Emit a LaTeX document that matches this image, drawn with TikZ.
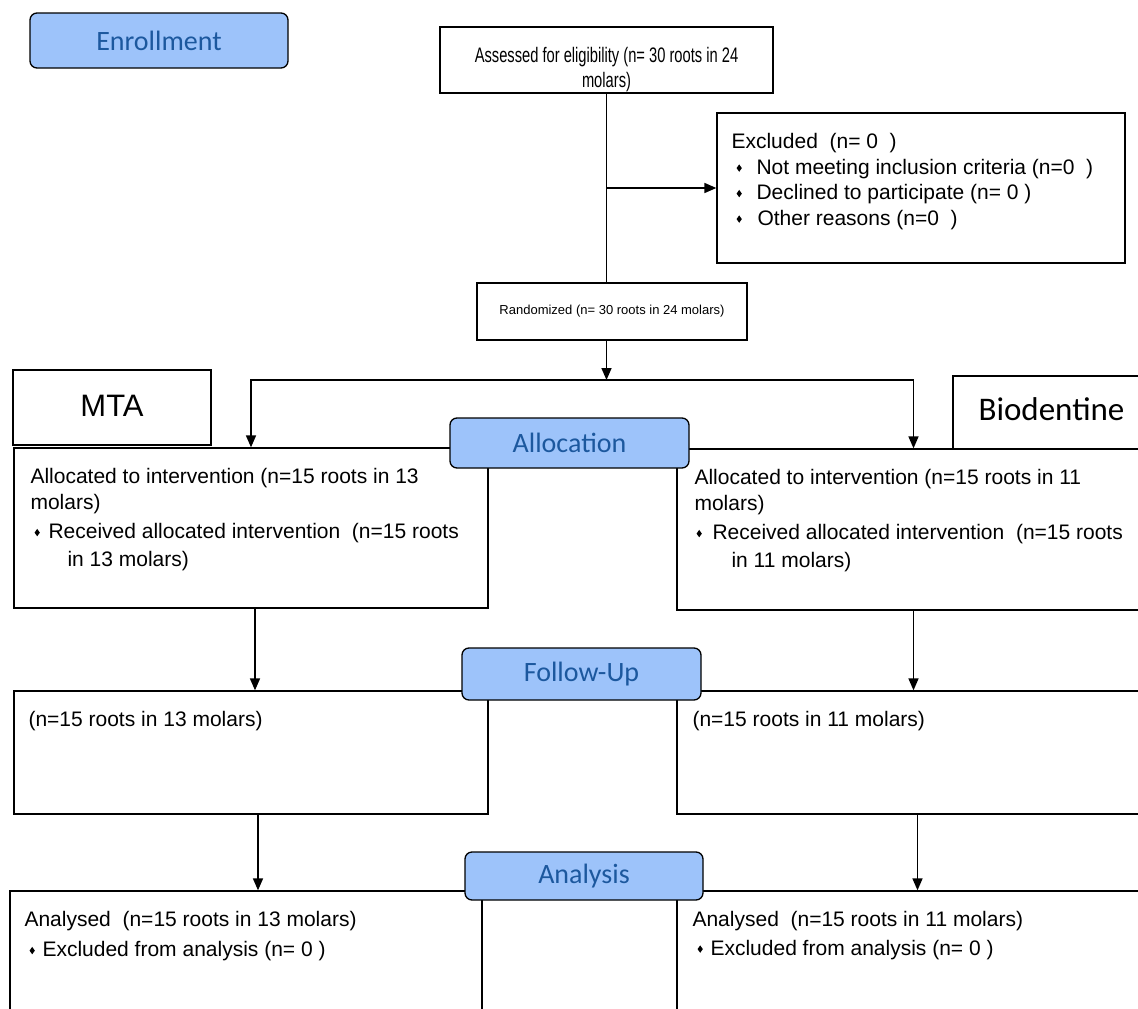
\documentclass[tikz,border=0pt]{standalone}
\usepackage{fontspec}
\setmainfont{Liberation Sans}
\newfontfamily\stagefont{Carlito}
\newfontfamily\narrowfont[FakeStretch=0.7]{Liberation Sans}
\usetikzlibrary{arrows.meta}
\definecolor{stagefill}{RGB}{157,195,250}
\definecolor{stagetext}{RGB}{28,88,158}
\newcommand\dmd{\raisebox{2.5pt}{\scalebox{0.72}[1]{\rotatebox{45}{\rule{5.2pt}{5.2pt}}}}}

\begin{document}
\begin{tikzpicture}[x=1pt,y=-1pt,
  box/.style={draw,line width=1.3pt,inner sep=0pt},
  stage/.style={draw,line width=1.3pt,rounded corners=7pt,fill=stagefill,text=stagetext,
    font=\stagefont\fontsize{28}{30}\selectfont,inner sep=0pt},
  txt/.style={anchor=north west,align=left,inner sep=0pt,font=\fontsize{21}{25.5}\selectfont},
  arr/.style={line width=1.6pt,-{Triangle[length=12pt,width=10pt]}},
  link/.style={line width=1.6pt}]
\useasboundingbox (0,0) rectangle (1138,1009);
\clip (0,0) rectangle (1138,1009);
\node[box,minimum width=333,minimum height=66] (assess) at (606.5,60) {};
\node[font=\narrowfont\fontsize{21}{25}\selectfont,align=center,inner sep=0pt] (assessTxt) at ([yshift=-10pt]assess.center) {Assessed for eligibility (n= 30 roots in 24\\molars)};
\node[box,minimum width=408,minimum height=150] (excl) at (921,188) {};
\node[txt] (exclTxt) at ([shift={(15,21)}]excl.north west) {Excluded~~(n=~0~~)\\
\hspace*{5pt}\makebox[20pt][l]{\dmd}Not meeting inclusion criteria (n=0~~)\\
\hspace*{5pt}\makebox[20pt][l]{\dmd}Declined to participate (n=~0 )\\
\hspace*{5pt}\makebox[21pt][l]{\dmd}Other reasons (n=0~~)};
\node[box,minimum width=270,minimum height=57,font=\fontsize{13}{15}\selectfont] (rand) at (612,311.5) {Randomized (n= 30 roots in 24 molars)};
\coordinate (split) at (606.5,380);
\node[box,minimum width=198,minimum height=75,font=\fontsize{31}{32}\selectfont] (mta) at (112,407.5) {\raisebox{4pt}{MTA}};
\node[box,minimum width=197,minimum height=73,font=\stagefont\fontsize{33}{34}\selectfont] (bio) at (1051.5,412.5) {\raisebox{7pt}{Biodentine}};
\node[box,minimum width=474,minimum height=160] (allocL) at (251,528) {};
\node[box,minimum width=473,minimum height=161] (allocR) at (913.5,529.5) {};
\node[txt] (allocLTxt) at ([shift={(17,21)}]allocL.north west) {Allocated to intervention (n=15 roots in 13\\
molars)\\[4pt]
\hspace*{4pt}\makebox[14pt][l]{\dmd}Received allocated intervention~~(n=15 roots\\[2pt]
\hspace*{37pt}in 13 molars)};
\node[txt] (allocRTxt) at ([shift={(18,21)}]allocR.north west) {Allocated to intervention (n=15 roots in 11\\
molars)\\[4pt]
\hspace*{2pt}\makebox[16pt][l]{\dmd}Received allocated intervention~~(n=15 roots\\[2pt]
\hspace*{37pt}in 11 molars)};
\node[box,minimum width=474,minimum height=123] (fupL) at (251,752.5) {};
\node[box,minimum width=473,minimum height=123] (fupR) at (913.5,752.5) {};
\node[txt] (fupLTxt) at ([shift={(15,21)}]fupL.north west) {(n=15 roots in 13 molars)};
\node[txt] (fupRTxt) at ([shift={(16,21)}]fupR.north west) {(n=15 roots in 11 molars)};
\node[box,minimum width=472,minimum height=129] (anaL) at (246,955.5) {};
\node[box,minimum width=473,minimum height=129] (anaR) at (913.5,955.5) {};
\node[txt] (anaLTxt) at ([shift={(15,21)}]anaL.north west) {Analysed~~(n=15 roots in 13 molars)\\[4.5pt]
\hspace*{5pt}\makebox[13pt][l]{\dmd}Excluded from analysis (n=~0 )};
\node[txt] (anaRTxt) at ([shift={(16,21)}]anaR.north west) {Analysed~~(n=15 roots in 11 molars)\\[3pt]
\hspace*{5pt}\makebox[13pt][l]{\dmd}Excluded from analysis (n=~0 )};
\node[stage,minimum width=258,minimum height=55] (enroll) at (159,40.5) {\raisebox{-2pt}{Enrollment}};
\node[stage,minimum width=239,minimum height=50] (alloc) at (569.5,443) {\raisebox{-3pt}{Allocation}};
\node[stage,minimum width=239,minimum height=52] (fup) at (581.5,674) {\raisebox{-3pt}{Follow-Up}};
\node[stage,minimum width=238,minimum height=48] (ana) at (584,876) {\raisebox{-3pt}{Analysis}};
\coordinate (br) at (assess.south |- excl.west);
\draw[link] (assess.south) -- (assess.south |- rand.north);
\draw[arr] (br) -- (excl.west);
\draw[arr] (split |- rand.south) -- (split);
\draw[arr] (split) -| (allocL.north);
\draw[arr] (split) -| (allocR.north);
\draw[arr] ([xshift=4pt]allocL.south) -- ([xshift=4pt]fupL.north);
\draw[arr] (allocR.south) -- (fupR.north);
\draw[arr] ([xshift=7pt]fupL.south) -- ([xshift=7pt]fupL.south |- anaL.north);
\draw[arr] ([xshift=4pt]fupR.south) -- ([xshift=4pt]anaR.north);
\end{tikzpicture}
\end{document}
